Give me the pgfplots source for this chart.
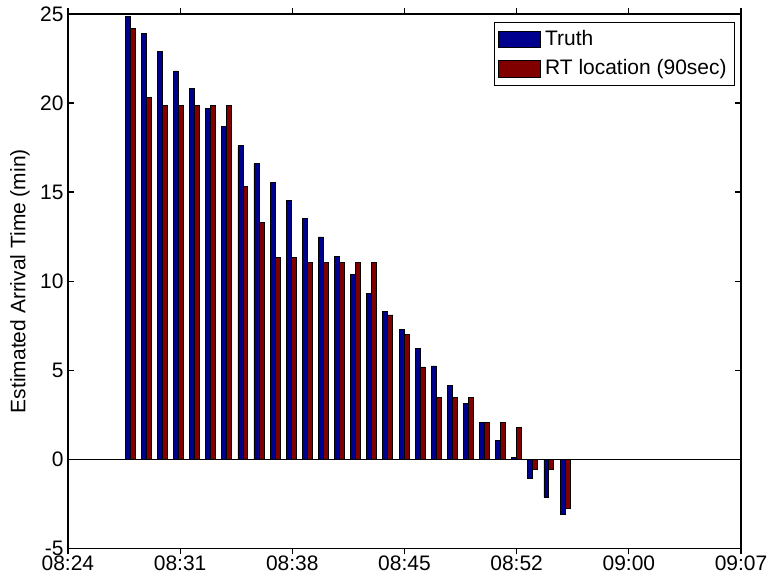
\documentclass[border=0pt]{standalone}
\usepackage{pgfplots}
\pgfplotsset{compat=1.18}
\usepackage{pgfplotstable}
\usepackage{fontspec}
\setmainfont{Liberation Sans}
\definecolor{mblue}{RGB}{0,0,143}
\definecolor{mred}{RGB}{128,0,0}
\pgfplotstableread{
x truth rt
3.88 24.85 24.2
4.89 23.9 20.3
5.89 22.9 19.85
6.90 21.8 19.85
7.90 20.8 19.85
8.91 19.7 19.85
9.91 18.7 19.85
10.92 17.6 15.3
11.92 16.6 13.3
12.93 15.55 11.33
13.93 14.55 11.33
14.94 13.5 11.03
15.94 12.48 11.03
16.95 11.4 11.03
17.95 10.4 11.03
18.96 9.33 11.03
19.96 8.3 8.1
20.97 7.3 7.0
21.97 6.23 5.18
22.98 5.24 3.47
23.98 4.15 3.47
24.99 3.14 3.47
25.99 2.08 2.08
27.00 1.07 2.08
28.00 0.08 1.79
29.01 -1.05 -0.56
30.01 -2.14 -0.56
31.02 -3.1 -2.74
}\data
\begin{document}
\begin{tikzpicture}
\useasboundingbox (-34pt,-15pt) rectangle (351pt,274.5pt);
\begin{axis}[
  at={(0,0)}, anchor=south west,
  scale only axis, width=337pt, height=267.5pt,
  xmin=0, xmax=42, ymin=-5, ymax=25,
  xtick={0,7,14,21,28,35,42},
  xticklabels={08:24,08:31,08:38,08:45,08:52,09:00,09:07},
  ytick={-5,0,5,10,15,20,25},
  tick align=inside, tickpos=both,
  major tick length=3pt,
  axis line style={black, line width=0.6pt},
  tick style={black, line width=0.6pt},
  /pgf/number format/assume math mode=true,
  font=\fontsize{10.5}{12}\selectfont,
  xticklabel style={inner sep=0.5pt},
  yticklabel style={inner sep=2pt},
  ylabel={Estimated Arrival Time (min)},
  every axis y label/.style={at={(axis description cs:-0.0712,0.5)}, rotate=90, anchor=center},
  ybar=0pt, bar width=0.31,
  legend style={at={(axis description cs:0.991,0.985)}, anchor=north east, draw=black, fill=white,
    font=\fontsize{10.5}{12}\selectfont, inner sep=2pt, row sep=1.5pt, cells={anchor=west}},
  legend image code/.code={\draw[#1, draw=black] (0pt,-4.2pt) rectangle (21pt,4.2pt);},
]
\addplot[fill=mblue, draw=black, line width=0.4pt] table[x=x, y=truth] {\data};
\addlegendentry{Truth}
\addplot[fill=mred, draw=black, line width=0.4pt] table[x=x, y=rt] {\data};
\addlegendentry{RT location (90sec)}
\addplot[black, line width=0.6pt, forget plot, sharp plot] coordinates {(0,0) (42,0)};
\end{axis}
\end{tikzpicture}
\end{document}
